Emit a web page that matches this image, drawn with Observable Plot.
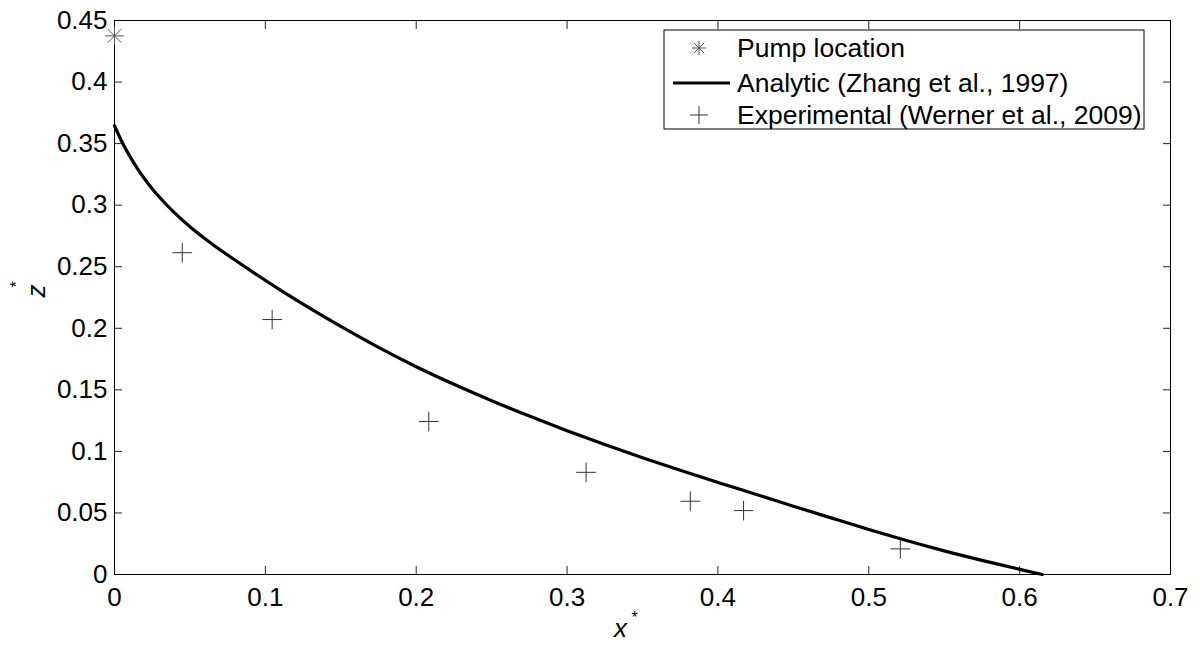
<!DOCTYPE html>
<html>
<head>
<meta charset="utf-8">
<script src="https://cdn.jsdelivr.net/npm/d3@7"></script>
<script src="https://cdn.jsdelivr.net/npm/@observablehq/plot@0.6"></script>
<style>
  html, body { margin: 0; padding: 0; background: #fff; }
  #chart { width: 1200px; height: 653px; }
</style>
</head>
<body>
<div id="chart"></div>
<script>
// ---- data ----
const xTicks = [0, 0.1, 0.2, 0.3, 0.4, 0.5, 0.6, 0.7];
const yTicks = [0, 0.05, 0.1, 0.15, 0.2, 0.25, 0.3, 0.35, 0.4, 0.45];

const pumpX = [0];
const pumpZ = [0.4375];

const analyticX = [0, 0.005, 0.01, 0.015, 0.02, 0.025, 0.03, 0.04, 0.05, 0.06, 0.075, 0.09, 0.11, 0.125, 0.15, 0.175, 0.2, 0.225, 0.25, 0.275, 0.3, 0.325, 0.35, 0.375, 0.4, 0.425, 0.45, 0.475, 0.5, 0.525, 0.55, 0.575, 0.6, 0.615];
const analyticZ = [0.3645, 0.3513, 0.340, 0.3301, 0.3213, 0.3134, 0.3062, 0.2935, 0.2825, 0.2728, 0.2595, 0.247, 0.231, 0.2196, 0.2015, 0.1845, 0.1688, 0.1545, 0.1412, 0.1287, 0.1168, 0.1055, 0.0948, 0.0846, 0.0748, 0.0652, 0.0555, 0.046, 0.0366, 0.0276, 0.0192, 0.0115, 0.0042, 0];

const expX = [0.0449, 0.1045, 0.2083, 0.3126, 0.3817, 0.417, 0.5209];
const expZ = [0.2614, 0.2071, 0.1243, 0.083, 0.0595, 0.0519, 0.0208];

const legendLabels = ["Pump location", "Analytic (Zhang et al., 1997)", "Experimental (Werner et al., 2009)"];
const xLabel = "x";
const yLabel = "z";

// ---- tables ----
const pump = pumpX.map((x, i) => ({x, z: pumpZ[i]}));
const analytic = analyticX.map((x, i) => ({x, z: analyticZ[i]}));
const exp = expX.map((x, i) => ({x, z: expZ[i]}));

const fmt = d => String(d);
const FONT = "'Liberation Sans', Arial, Helvetica, sans-serif";

function legendMark() {
  return (index, scales, values, dims) => {
    const g = d3.create("svg:g").attr("font-family", FONT).attr("font-size", 26.5).attr("fill", "#000");
    const bx = 664, by = 30, bw = 480, bh = 99;
    g.append("rect").attr("x", bx).attr("y", by).attr("width", bw).attr("height", bh)
      .attr("fill", "#fff").attr("stroke", "#000").attr("stroke-width", 1);
    const rows = [48, 83, 115];
    const sx = 699, tx = 737;
    // asterisk
    const a = 7, ad = a / Math.SQRT2;
    g.append("path").attr("stroke", "#555").attr("stroke-width", 1).attr("fill", "none")
      .attr("d", `M${sx - a},${rows[0]}H${sx + a}M${sx},${rows[0] - a}V${rows[0] + a}M${sx - ad},${rows[0] - ad}L${sx + ad},${rows[0] + ad}M${sx - ad},${rows[0] + ad}L${sx + ad},${rows[0] - ad}`);
    // line
    g.append("line").attr("x1", 673).attr("x2", 730).attr("y1", rows[1]).attr("y2", rows[1])
      .attr("stroke", "#000").attr("stroke-width", 3.2);
    // plus
    const p = 9;
    g.append("path").attr("d", `M${sx - p},${rows[2]}H${sx + p}M${sx},${rows[2] - p}V${rows[2] + p}`)
      .attr("stroke", "#333").attr("stroke-width", 1).attr("fill", "none");
    legendLabels.forEach((t, i) => {
      g.append("text").attr("x", tx).attr("y", rows[i]).attr("dy", "0.35em")
        .attr("text-anchor", "start").text(t);
    });
    return g.node();
  };
}

const chart = Plot.plot({
  width: 1200,
  height: 653,
  marginLeft: 114,
  marginRight: 30,
  marginTop: 20,
  marginBottom: 79,
  style: {fontFamily: FONT, fontSize: "26px", color: "#000", background: "#fff"},
  x: {domain: [0, 0.7]},
  y: {domain: [0, 0.45]},
  marks: [
    // inner ticks on all four sides
    Plot.axisX({anchor: "bottom", ticks: xTicks, tickSize: 8, dy: -8, fill: "none", label: null, stroke: "#222"}),
    Plot.axisX({anchor: "top", ticks: xTicks, tickSize: 8, dy: 8, fill: "none", label: null, stroke: "#222"}),
    Plot.axisY({anchor: "left", ticks: yTicks, tickSize: 8, dx: 8, fill: "none", label: null, stroke: "#222"}),
    Plot.axisY({anchor: "right", ticks: yTicks, tickSize: 8, dx: -8, fill: "none", label: null, stroke: "#222"}),
    // tick labels
    Plot.axisX({anchor: "bottom", ticks: xTicks, tickSize: 0, tickPadding: 13, tickFormat: fmt, label: null, fontSize: 26}),
    Plot.axisY({anchor: "left", ticks: yTicks, tickSize: 0, tickPadding: 7, tickFormat: fmt, label: null, fontSize: 26}),
    Plot.frame({stroke: "#000"}),
    // data
    Plot.line(analytic, {x: "x", y: "z", stroke: "#000", strokeWidth: 3.2, curve: "monotone-x"}),
    Plot.dot(exp, {x: "x", y: "z", symbol: "plus", r: 6.4, stroke: "#333", strokeWidth: 1}),
    Plot.dot(pump, {x: "x", y: "z", symbol: "plus", r: 6.2, stroke: "#555", strokeWidth: 1}),
    Plot.dot(pump, {x: "x", y: "z", symbol: "times", r: 6.2, stroke: "#555", strokeWidth: 1}),
    // axis labels
    Plot.text([xLabel], {frameAnchor: "bottom", dx: -22, dy: 62, text: d => d, fontStyle: "italic", fontSize: 26}),
    Plot.text(["*"], {frameAnchor: "bottom", dx: -8, dy: 48, text: d => d, fontSize: 16}),
    Plot.text([yLabel], {frameAnchor: "left", dx: -78, dy: 0, rotate: -90, text: d => d, fontStyle: "italic", fontSize: 26}),
    Plot.text(["*"], {frameAnchor: "left", dx: -98, dy: -10, rotate: -90, text: d => d, fontSize: 16}),
    legendMark()
  ]
});
document.getElementById("chart").appendChild(chart);
</script>
</body>
</html>
